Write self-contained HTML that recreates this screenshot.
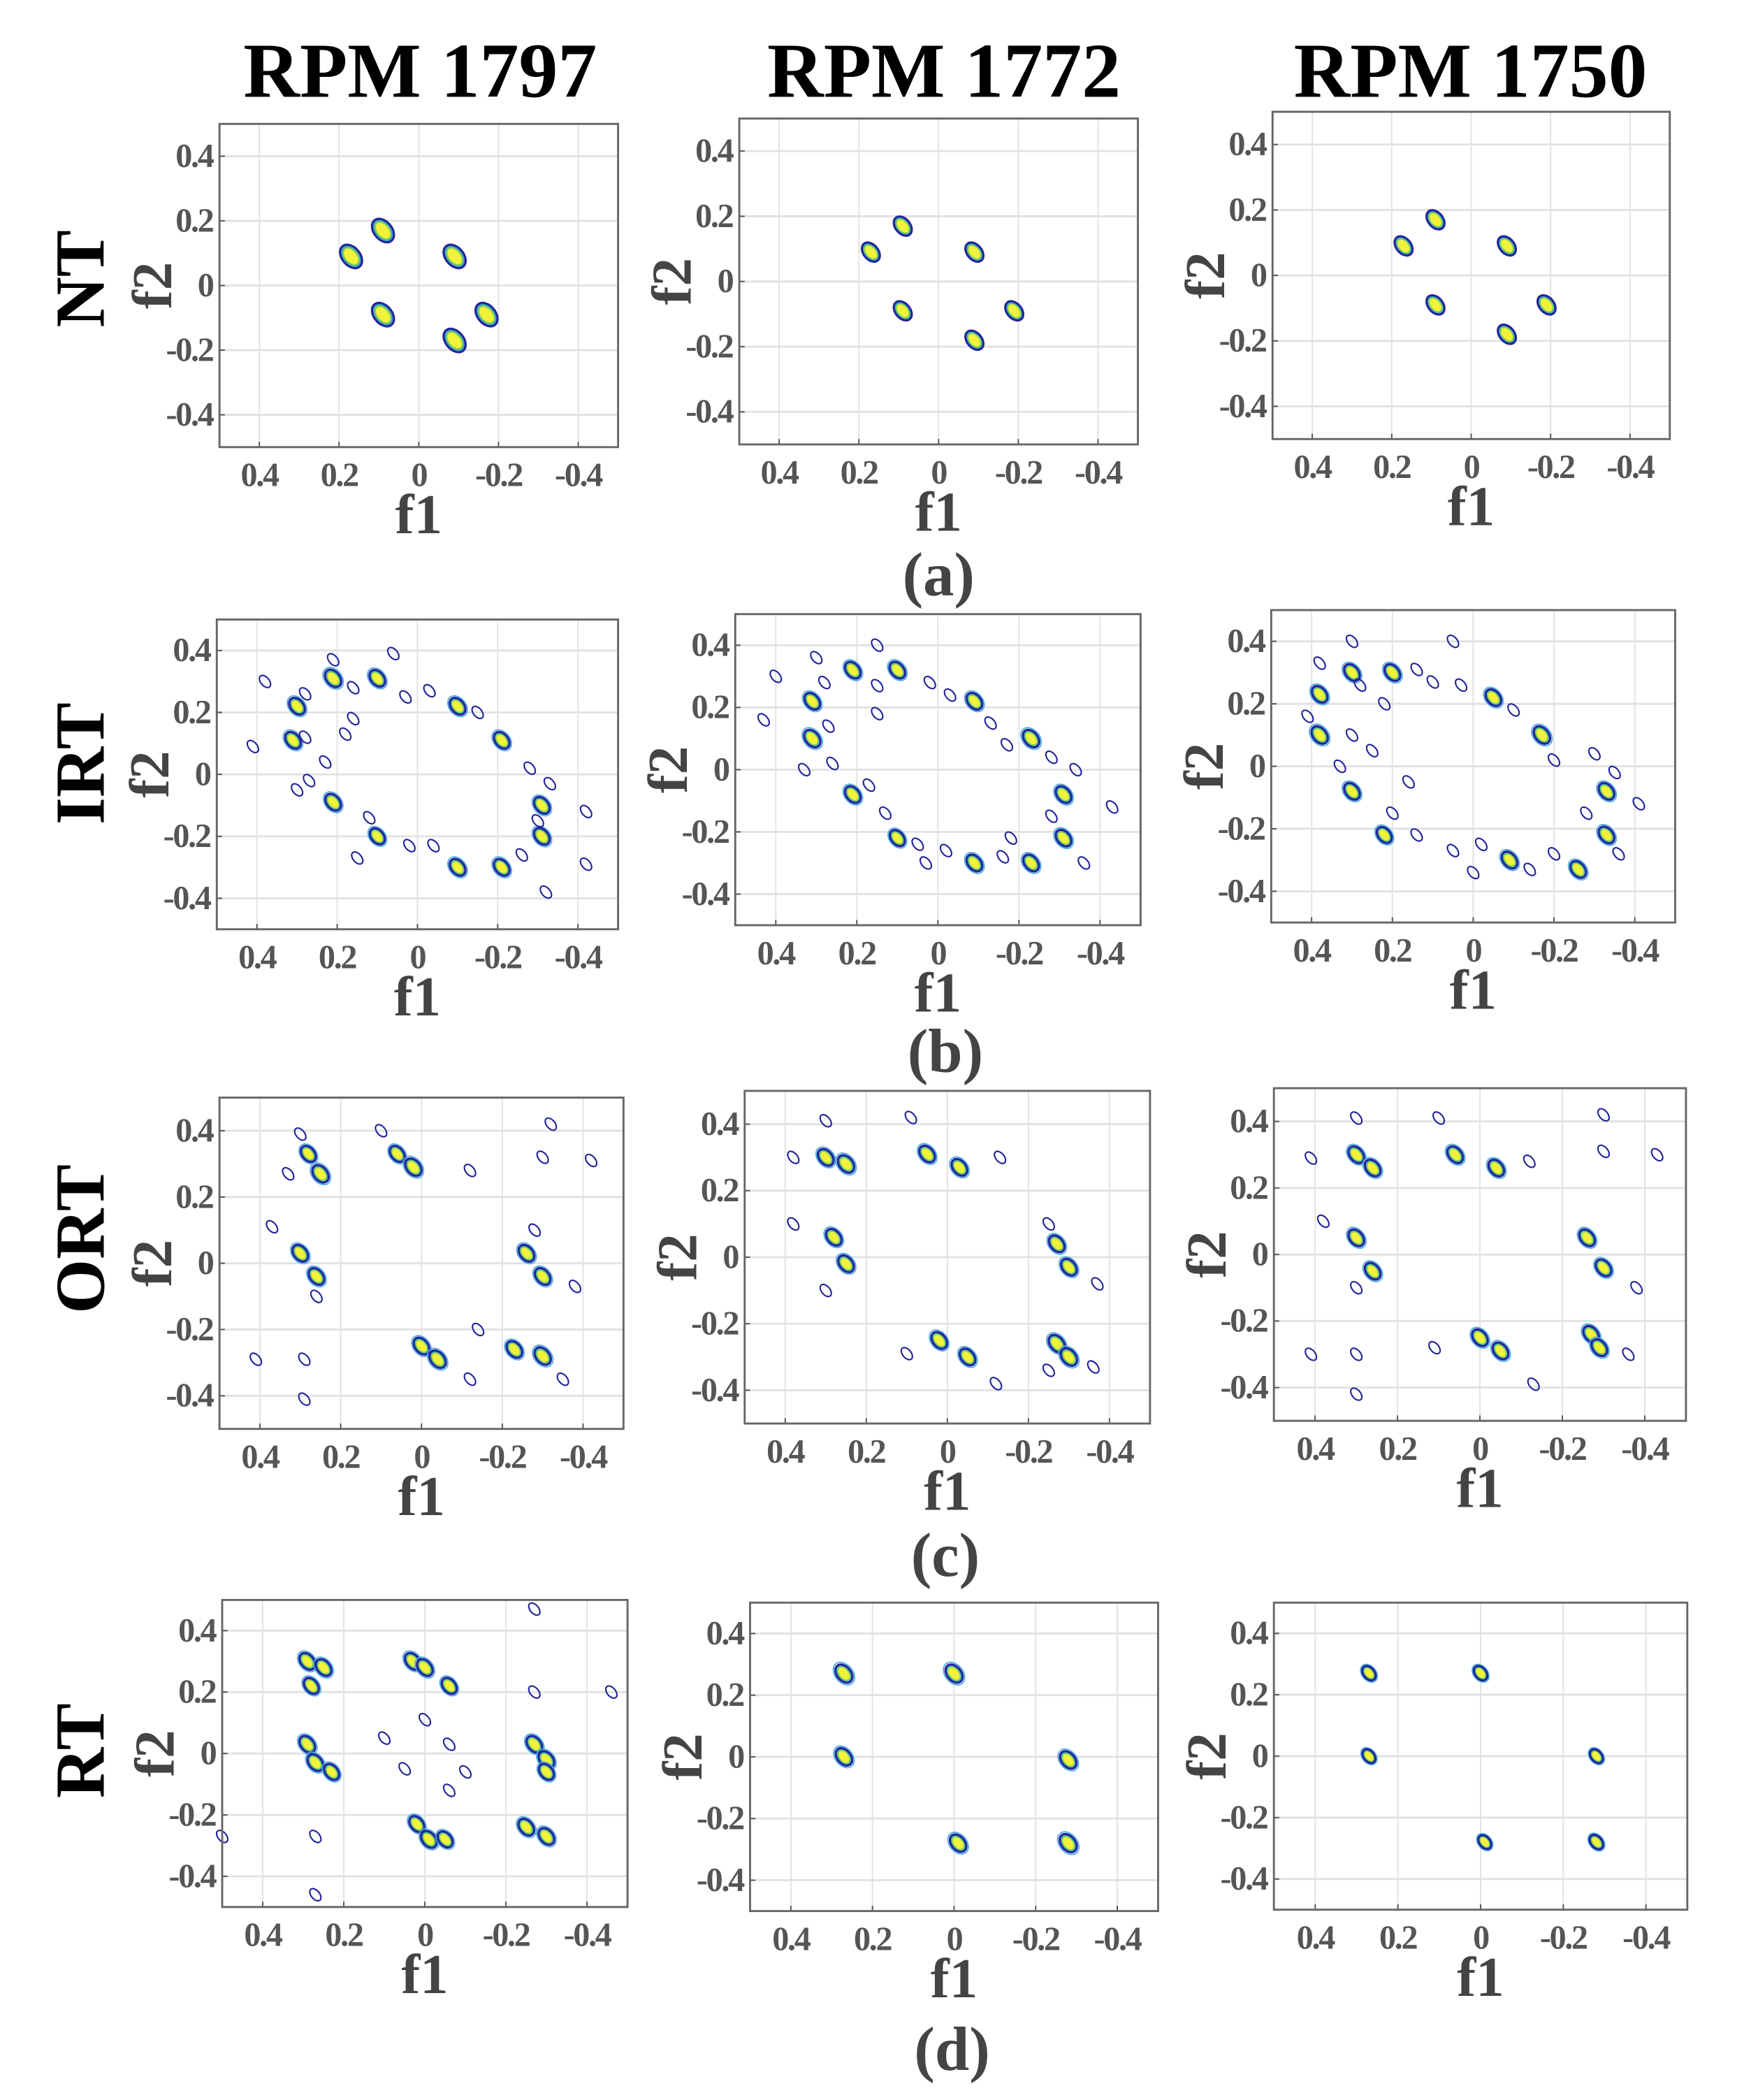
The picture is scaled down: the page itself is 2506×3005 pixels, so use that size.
<!DOCTYPE html>
<html><head><meta charset="utf-8"><style>
html,body{margin:0;padding:0;background:#fff;}
svg{display:block;}
text{font-family:"Liberation Serif",serif;font-weight:bold;}
</style></head><body>
<svg id="fig" width="2506" height="3005" viewBox="0 0 1300.3 1559.3" preserveAspectRatio="none" xmlns="http://www.w3.org/2000/svg">
<rect width="1300.3" height="1559.3" fill="#fff"/>
<g>
<text x="312" y="72" font-size="58" text-anchor="middle" fill="#000">RPM 1797</text>
<text x="701" y="72" font-size="58" text-anchor="middle" fill="#000">RPM 1772</text>
<text x="1092" y="72" font-size="58" text-anchor="middle" fill="#000">RPM 1750</text>
</g>
<g>
<text transform="translate(77,207) rotate(-90)" font-size="52" text-anchor="middle" fill="#000">NT</text>
<text transform="translate(77,567) rotate(-90)" font-size="52" text-anchor="middle" fill="#000">IRT</text>
<text transform="translate(77,920) rotate(-90)" font-size="52" text-anchor="middle" fill="#000">ORT</text>
<text transform="translate(77,1300) rotate(-90)" font-size="52" text-anchor="middle" fill="#000">RT</text>
</g>
<g>
<text x="697" y="442" font-size="46" text-anchor="middle" fill="#444">(a)</text>
<text x="702" y="796" font-size="46" text-anchor="middle" fill="#444">(b)</text>
<text x="702" y="1170" font-size="46" text-anchor="middle" fill="#444">(c)</text>
<text x="707" y="1537" font-size="46" text-anchor="middle" fill="#444">(d)</text>
</g>
<g id="panels"></g>
</svg>
<script>
// ---- data: axis ticks ----
const tickValues = [0.4, 0.2, 0, -0.2, -0.4];
const tickLabels = ["0.4", "0.2", "0", "-0.2", "-0.4"];
// ---- data: peak locations [f1, f2, intensity] (intensity 0 = outer contour only) ----
const nt1797 = [[0.09,0.17,1],[0.17,0.09,1],[-0.09,0.09,1],[0.09,-0.09,1],[-0.17,-0.09,1],[-0.09,-0.17,1]];
const nt1772 = [[0.09,0.17,0.8],[0.17,0.09,0.8],[-0.09,0.09,0.8],[0.09,-0.09,0.8],[-0.19,-0.09,0.8],[-0.09,-0.18,0.8]];
const nt1750 = [[0.09,0.17,0.8],[0.17,0.09,0.8],[-0.09,0.09,0.8],[0.09,-0.09,0.8],[-0.19,-0.09,0.8],[-0.09,-0.18,0.8]];
const irt1797 = [[0.21,0.31,0.9],[0.1,0.31,0.8],[0.3,0.22,0.8],[0.31,0.11,0.8],[0.21,-0.09,0.8],[0.1,-0.2,0.7],[-0.1,0.22,0.8],[-0.21,0.11,0.8],[-0.31,-0.1,0.8],[-0.31,-0.2,0.8],[-0.21,-0.3,0.8],[-0.1,-0.3,0.8],
 [0.38,0.3,0],[0.28,0.26,0],[0.16,0.28,0],[0.03,0.25,0],[-0.03,0.27,0],[0.16,0.18,0],[0.28,0.12,0],[0.23,0.04,0],[0.27,-0.02,0],[0.41,0.09,0],[0.18,0.13,0],[-0.15,0.2,0],[-0.28,0.02,0],[-0.33,-0.03,0],[-0.3,-0.15,0],[-0.42,-0.12,0],[-0.26,-0.26,0],[-0.04,-0.23,0],[0.02,-0.23,0],[0.12,-0.14,0],[0.15,-0.27,0],[-0.32,-0.38,0],[-0.42,-0.29,0],[0.3,-0.05,0],[0.21,0.37,0],[0.06,0.39,0]];
const irt1772 = [[0.21,0.32,0.8],[0.1,0.32,0.8],[0.31,0.22,0.8],[0.31,0.1,0.9],[0.21,-0.08,0.8],[0.1,-0.22,0.7],[-0.09,0.22,0.8],[-0.23,0.1,0.9],[-0.31,-0.08,0.8],[-0.31,-0.22,0.8],[-0.23,-0.3,0.8],[-0.09,-0.3,0.8],
 [0.4,0.3,0],[0.28,0.28,0],[0.15,0.27,0],[0.02,0.28,0],[-0.03,0.24,0],[0.15,0.18,0],[0.27,0.14,0],[0.26,0.02,0],[0.33,0.0,0],[0.17,-0.05,0],[-0.13,0.15,0],[-0.17,0.08,0],[-0.28,0.04,0],[-0.34,0.0,0],[-0.28,-0.15,0],[-0.18,-0.22,0],[-0.02,-0.26,0],[0.05,-0.24,0],[0.13,-0.14,0],[0.03,-0.3,0],[-0.16,-0.28,0],[-0.36,-0.3,0],[-0.43,-0.12,0],[0.43,0.16,0],[0.3,0.36,0],[0.15,0.4,0]];
const irt1750 = [[0.3,0.3,0.8],[0.2,0.3,0.8],[0.38,0.23,0.8],[0.38,0.1,0.9],[0.3,-0.08,0.8],[0.22,-0.22,0.7],[-0.05,0.22,0.8],[-0.17,0.1,0.9],[-0.33,-0.08,0.8],[-0.33,-0.22,0.8],[-0.26,-0.33,0.8],[-0.09,-0.3,0.8],
 [0.38,0.33,0],[0.28,0.26,0],[0.14,0.31,0],[0.1,0.27,0],[0.03,0.26,0],[0.22,0.2,0],[0.3,0.1,0],[0.33,0.0,0],[0.25,0.05,0],[0.16,-0.05,0],[-0.1,0.18,0],[-0.2,0.02,0],[-0.3,0.04,0],[-0.35,-0.02,0],[-0.28,-0.15,0],[-0.2,-0.28,0],[-0.02,-0.25,0],[0.05,-0.27,0],[0.14,-0.22,0],[0.0,-0.34,0],[-0.14,-0.33,0],[-0.36,-0.28,0],[-0.41,-0.12,0],[0.41,0.16,0],[0.3,0.4,0],[0.05,0.4,0],[0.2,-0.15,0]];
const ort1797 = [[0.28,0.33,0.7],[0.25,0.27,0.9],[0.06,0.33,0.7],[0.02,0.29,0.9],[-0.3,0.32,0],[-0.32,0.42,0],[-0.42,0.31,0],[0.3,0.03,0.8],[0.26,-0.04,0.8],[-0.26,0.03,0.8],[-0.3,-0.04,0.8],[0.0,-0.25,0.8],[-0.04,-0.29,0.9],[-0.23,-0.26,0.8],[-0.3,-0.28,0.9],[0.41,-0.29,0],[0.29,-0.29,0],[0.29,-0.41,0],
 [0.33,0.27,0],[0.37,0.11,0],[0.26,-0.1,0],[-0.12,0.28,0],[0.1,0.4,0],[0.3,0.39,0],[-0.38,-0.07,0],[-0.28,0.1,0],[-0.12,-0.35,0],[-0.14,-0.2,0],[-0.35,-0.35,0]];
const ort1772 = [[0.3,0.3,0.8],[0.25,0.28,0.9],[0.05,0.31,0.8],[-0.03,0.27,0.8],[0.28,0.06,0.8],[0.25,-0.02,0.8],[-0.27,0.04,0.8],[-0.3,-0.03,0.8],[0.02,-0.25,0.8],[-0.05,-0.3,0.8],[-0.27,-0.26,0.9],[-0.3,-0.3,0.9],
 [0.38,0.3,0],[0.3,0.41,0],[0.09,0.42,0],[-0.13,0.3,0],[0.38,0.1,0],[0.3,-0.1,0],[-0.37,-0.08,0],[-0.25,0.1,0],[0.1,-0.29,0],[-0.12,-0.38,0],[-0.36,-0.33,0],[-0.25,-0.34,0]];
const ort1750 = [[0.3,0.3,0.8],[0.26,0.26,0.8],[0.06,0.3,0.8],[-0.04,0.26,0.8],[0.3,0.05,0.8],[0.26,-0.05,0.8],[-0.26,0.05,0.8],[-0.3,-0.04,0.8],[0.0,-0.25,0.8],[-0.05,-0.29,0.8],[-0.27,-0.24,0.8],[-0.29,-0.28,0.8],
 [0.41,0.29,0],[0.3,0.41,0],[0.1,0.41,0],[-0.12,0.28,0],[-0.3,0.42,0],[-0.3,0.31,0],[-0.43,0.3,0],[0.38,0.1,0],[0.3,-0.1,0],[-0.38,-0.1,0],[0.11,-0.28,0],[-0.13,-0.39,0],[0.41,-0.3,0],[0.3,-0.3,0],[0.3,-0.42,0],[-0.36,-0.3,0]];
const rt1797 = [[0.29,0.3,0.8],[0.25,0.28,0.8],[0.28,0.22,0.7],[0.03,0.3,0.8],[0.0,0.28,0.8],[-0.06,0.22,0.7],[0.29,0.03,0.8],[0.27,-0.03,0.8],[0.23,-0.06,0.7],[-0.27,0.03,0.8],[-0.3,-0.02,0.8],[-0.3,-0.06,0.7],[0.02,-0.23,0.7],[-0.01,-0.28,0.8],[-0.05,-0.28,0.7],[-0.25,-0.24,0.8],[-0.3,-0.27,0.8],
 [0.0,0.11,0],[0.1,0.05,0],[-0.06,0.03,0],[0.05,-0.05,0],[-0.1,-0.06,0],[-0.06,-0.12,0],[-0.27,0.2,0],[-0.46,0.2,0],[-0.27,0.47,0],[0.5,-0.27,0],[0.27,-0.27,0],[0.27,-0.46,0]];
const rt1772 = [[0.27,0.27,1],[0.0,0.27,1],[0.27,0.0,0.9],[-0.28,-0.01,0.9],[-0.01,-0.28,0.9],[-0.28,-0.28,1]];
const rt1750 = [[0.27,0.27,0.8],[0.0,0.27,0.8],[0.27,0.0,0.7],[-0.28,0.0,0.7],[-0.01,-0.28,0.7],[-0.28,-0.28,0.8]];

// ---- layout ----
const panels = [
 {name:'nt-1797', box:[163,92,459,332], peaks:nt1797, r:9},
 {name:'nt-1772', box:[549,88,845,330], peaks:nt1772, r:8},
 {name:'nt-1750', box:[945,83,1240,326], peaks:nt1750, r:8},
 {name:'irt-1797', box:[161,460,459,690], peaks:irt1797, r:7},
 {name:'irt-1772', box:[546,456,847,687], peaks:irt1772, r:7},
 {name:'irt-1750', box:[944,453,1244,685], peaks:irt1750, r:7},
 {name:'ort-1797', box:[163,815,463,1061], peaks:ort1797, r:7},
 {name:'ort-1772', box:[553,810,854,1057], peaks:ort1772, r:7},
 {name:'ort-1750', box:[946,808,1252,1055], peaks:ort1750, r:7},
 {name:'rt-1797', box:[165,1188,466,1416], peaks:rt1797, r:7},
 {name:'rt-1772', box:[557,1190,860,1419], peaks:rt1772, r:7},
 {name:'rt-1750', box:[946,1190,1253,1418], peaks:rt1750, r:6},
];
const NS='http://www.w3.org/2000/svg';
const root=document.getElementById('panels');
function mk(tag,attrs,parent){const e=document.createElementNS(NS,tag);for(const k in attrs)e.setAttribute(k,attrs[k]);parent.appendChild(e);return e;}

panels.forEach(p=>{
 const [x0,y0,x1,y1]=p.box;
 const xs=v=>x0+(0.5-v)*(x1-x0);
 const ys=v=>y0+(0.5-v)*(y1-y0);
 const g=mk('g',{},root);
 
 
 mk('rect',{x:x0,y:y0,width:x1-x0,height:y1-y0,fill:'#fff'},g);
 tickValues.forEach((v,i)=>{
  const gx=mk('line',{x1:xs(v),x2:xs(v),y1:y0,y2:y1,stroke:'#e2e2e2','stroke-width':1},g);
  
  
  const gy=mk('line',{x1:x0,x2:x1,y1:ys(v),y2:ys(v),stroke:'#e2e2e2','stroke-width':1.5},g);
  
  
  mk('line',{x1:xs(v),x2:xs(v),y1:y1,y2:y1-4,stroke:'#555','stroke-width':1},g);
  mk('line',{x1:x0,x2:x0+4,y1:ys(v),y2:ys(v),stroke:'#555','stroke-width':1},g);
  const tx=mk('text',{x:xs(v),y:y1+29,'font-size':25,'letter-spacing':-1.2,'text-anchor':'middle',fill:'#555'},g);
  tx.textContent=tickLabels[i];
  
  
  const ty=mk('text',{x:x0-5,y:ys(v)+8,'font-size':25,'letter-spacing':-1.2,'text-anchor':'end',fill:'#555'},g);
  ty.textContent=tickLabels[i];
  
  
 });
 p.peaks.forEach(pk=>{
  const cx=xs(pk[0]), cy=ys(pk[1]);
  const s=pk[2];
  const pg=mk('g',{transform:`translate(${cx.toFixed(1)},${cy.toFixed(1)}) rotate(-40)`},g);
  
  
  const r=p.r;
  if(s>0){
   const k=0.6+0.4*s;
   if(!p.name.startsWith('nt')) mk('ellipse',{rx:r*0.95*k,ry:r*1.35*k,fill:'none',stroke:'#4aa8e0','stroke-width':0.9},pg);
   mk('ellipse',{rx:r*0.75*k,ry:r*1.1*k,fill:'#2c9bd0',stroke:'#23239a','stroke-width':1.6},pg);
   mk('ellipse',{rx:r*0.58*k,ry:r*0.9*k,fill:'#7ccf5a'},pg);
   mk('ellipse',{rx:r*0.45*k,ry:r*0.75*k,fill:'#f2f23a'},pg);
  } else {
   mk('ellipse',{rx:r*0.45,ry:r*0.75,fill:'none',stroke:'#23239a','stroke-width':1.1},pg);
  }
 });
 mk('rect',{x:x0,y:y0,width:x1-x0,height:y1-y0,fill:'none',stroke:'#666','stroke-width':1.5},g);
 const fx=mk('text',{x:(x0+x1)/2,y:y1+64,'font-size':42,'text-anchor':'middle',fill:'#444'},g);
 fx.textContent='f1';
 
 
 const fy=mk('text',{transform:`translate(${x0-36},${(y0+y1)/2}) rotate(-90)`,'font-size':42,'text-anchor':'middle',fill:'#444'},g);
 fy.textContent='f2';
 
 
});
</script>
</body></html>
